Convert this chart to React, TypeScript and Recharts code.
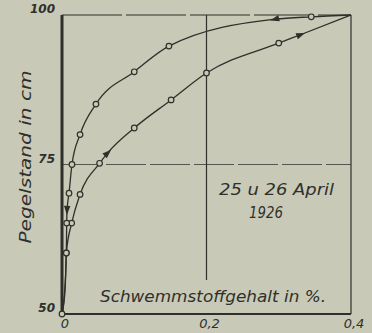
import { LineChart, Line, XAxis, YAxis, ReferenceLine } from "recharts";

// Pegelstand (cm) vs. Schwemmstoffgehalt (%), 25./26. April 1926
const xTicks = [0, 0.2, 0.4];
const yTicks = [50, 75, 100];

// steigender Pegel (untere Kurve)
const riseX = [0, 0.0045, 0.006, 0.0134, 0.025, 0.052, 0.063, 0.1, 0.151, 0.2, 0.3, 0.33, 0.4];
const riseY = [50, 54.5, 60.2, 65.2, 70, 75.2, 76.9, 81.1, 85.8, 90.3, 95.3, 96.7, 100];
const riseMark = ["o", "", "o", "o", "o", "o", "a", "o", "o", "o", "o", "a", ""];

// fallender Pegel (obere Kurve)
const fallX = [0, 0.004, 0.006, 0.0065, 0.007, 0.0097, 0.0138, 0.025, 0.047, 0.1, 0.148, 0.295, 0.345, 0.4];
const fallY = [50, 54.5, 60.2, 65.2, 67.4, 70.2, 75, 80, 85.1, 90.5, 94.8, 99.3, 99.7, 100];
const fallMark = ["", "", "o", "o", "a", "o", "o", "o", "o", "o", "o", "a", "o", ""];

const rising = riseX.map((x, i) => ({ x, y: riseY[i], mark: riseMark[i] }));
const falling = fallX.map((x, i) => ({ x, y: fallY[i], mark: fallMark[i] }));

const INK = "#2f302b";
const PAPER = "#c8c9b7";
const FONT = "'DejaVu Sans', sans-serif";

function Marker(props: any) {
  const { cx, cy, payload, index, points, dir } = props;
  if (cx == null || cy == null) return <g />;
  if (payload?.mark === "o") {
    return <circle cx={cx} cy={cy} r={2.8} fill={PAPER} stroke={INK} strokeWidth={1.2} />;
  }
  if (payload?.mark === "a") {
    let ang = dir > 0 ? -40 : 180;
    const nb = points?.[index + dir];
    if (nb && nb.x != null) ang = (Math.atan2(nb.y - cy, nb.x - cx) * 180) / Math.PI;
    return (
      <path
        d="M5,0 L-4,-3.2 L-4,3.2 Z"
        transform={`translate(${cx},${cy}) rotate(${ang})`}
        fill={INK}
      />
    );
  }
  return <g />;
}

function YTick({ x, y, payload }: any) {
  return (
    <text x={x + 1} y={y - 6} textAnchor="end" dominantBaseline="central"
      fontFamily={FONT} fontStyle="italic" fontWeight="bold" fontSize={12} fill={INK}>
      {payload.value}
    </text>
  );
}

function XTick({ x, y, payload }: any) {
  const lbl = payload.value === 0 ? "0" : String(payload.value).replace(".", ",");
  return (
    <text x={x + 3} y={y + 1} textAnchor="middle" dominantBaseline="central"
      fontFamily={FONT} fontStyle="italic" fontSize={13} fill={INK}>
      {lbl}
    </text>
  );
}

export default function App() {
  return (
    <div style={{ position: "fixed", left: 0, top: 0, width: 372, height: 333, background: PAPER }}>
      <LineChart width={372} height={333} data={rising}
        margin={{ top: 15, right: 21, bottom: 0, left: 0 }}>
        <XAxis type="number" dataKey="x" domain={[0, 0.4]} ticks={xTicks}
          height={19} tickLine={false} tick={<XTick />}
          axisLine={{ stroke: INK, strokeWidth: 2 }} />
        <YAxis type="number" dataKey="y" domain={[50, 100]} ticks={yTicks}
          width={62} tickLine={false} tick={<YTick />}
          axisLine={{ stroke: INK, strokeWidth: 3 }} />
        <ReferenceLine y={100} stroke={INK} strokeWidth={1.2} strokeDasharray="60 4" />
        <ReferenceLine y={75} stroke="#555650" strokeWidth={1} strokeDasharray="40 4" />
        <ReferenceLine x={0.4} stroke={INK} strokeWidth={1.2} />
        <ReferenceLine segment={[{ x: 0.2, y: 55.7 }, { x: 0.2, y: 100 }]} stroke={INK} strokeWidth={1.2} />
        <Line data={rising} dataKey="y" type="monotone" stroke={INK} strokeWidth={1.3}
          dot={(p: any) => <Marker {...p} key={`r${p.index}`} dir={1} />}
          isAnimationActive={false} />
        <Line data={falling} dataKey="y" type="monotone" stroke={INK} strokeWidth={1.3}
          dot={(p: any) => <Marker {...p} key={`f${p.index}`} dir={-1} />}
          isAnimationActive={false} />
      </LineChart>
      <svg width={372} height={333} style={{ position: "absolute", left: 0, top: 0, pointerEvents: "none" }}>
        <g fontFamily={FONT} fontStyle="italic" fill={INK}>
          <text x={0} y={0} fontSize={16} textAnchor="middle" dominantBaseline="central"
            transform="translate(25,157) rotate(-90)" textLength={173} lengthAdjust="spacingAndGlyphs">
            Pegelstand in cm
          </text>
          <text x={100} y={302} fontSize={16} textLength={226} lengthAdjust="spacingAndGlyphs">
            Schwemmstoffgehalt in %.
          </text>
          <text x={219} y={195} fontSize={16} textLength={115} lengthAdjust="spacingAndGlyphs">
            25 u 26 April
          </text>
          <text x={249} y={218} fontSize={16} textLength={34} lengthAdjust="spacingAndGlyphs">
            1926
          </text>
        </g>
      </svg>
    </div>
  );
}
